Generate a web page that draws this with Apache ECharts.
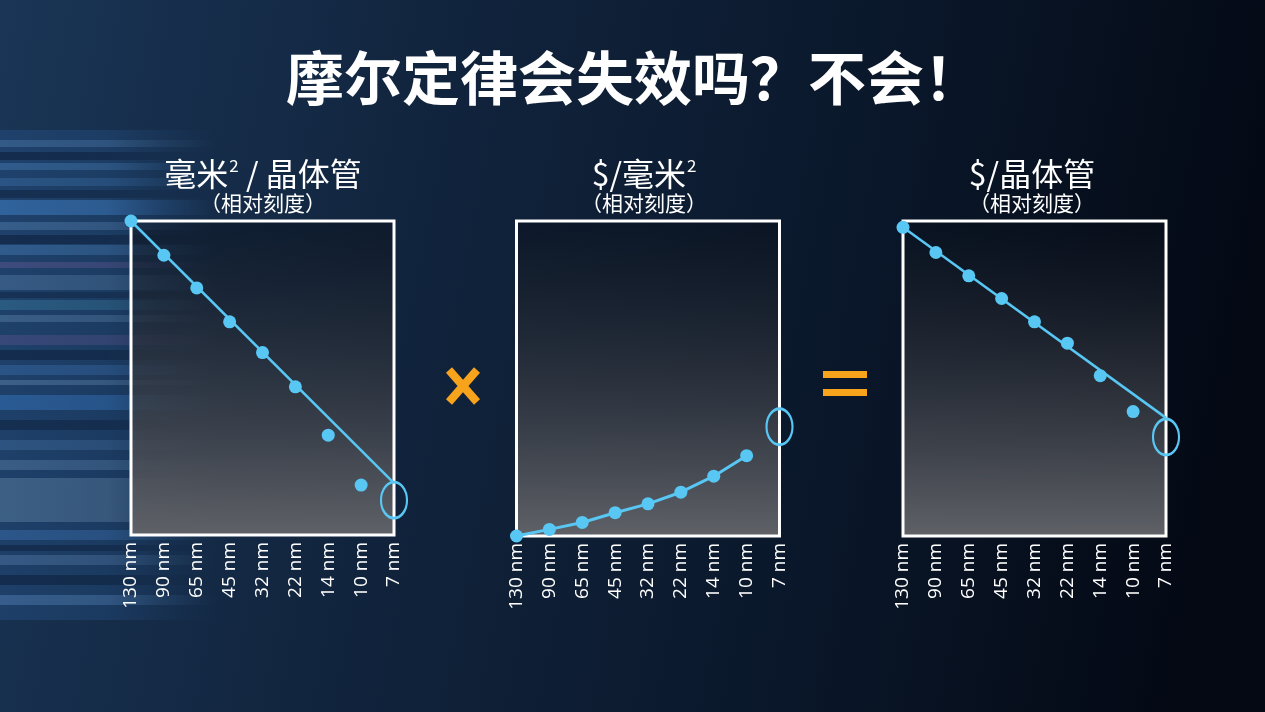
<!DOCTYPE html>
<html>
<head>
<meta charset="utf-8">
<script src="https://cdn.jsdelivr.net/npm/echarts@6/dist/echarts.min.js"></script>
<style>
html,body{margin:0;padding:0;width:1265px;height:712px;overflow:hidden;background:#0c1a2e;}
#chart{width:1265px;height:712px;}
</style>
</head>
<body>
<div id="chart"></div>
<script>
// ---- data ----
const nodes = ['130 nm','90 nm','65 nm','45 nm','32 nm','22 nm','14 nm','10 nm','7 nm'];
const areaPerTransistor = [100, 89.1, 78.7, 67.9, 58.1, 47.2, 31.8, 15.9, '-'];
const areaTrend = [100, '-', '-', '-', '-', '-', '-', '-', 16.5];
const areaMarker7nm = ['-', '-', '-', '-', '-', '-', '-', '-', 11.1];
const costPerArea = [0, 2.1, 4.3, 7.4, 10.2, 13.9, 19.0, 25.5, '-'];
const costPerAreaMarker7nm = ['-', '-', '-', '-', '-', '-', '-', '-', 34.7];
const costPerTransistor = [98.0, 90.0, 82.6, 75.4, 68.0, 61.2, 50.9, 39.5, '-'];
const costTrend = [98.0, '-', '-', '-', '-', '-', '-', '-', 37.5];
const costMarker7nm = ['-', '-', '-', '-', '-', '-', '-', '-', 31.4];

const mainTitle = '摩尔定律会失效吗？不会！';
const panelTitles = ['毫米² / 晶体管', '$/毫米²', '$/晶体管'];
const panelSub = '（相对刻度）';

// ---- styles ----
const BLUE = '#58c7f3';
const ORANGE = '#f7a41c';
const FONT = '"Noto Sans CJK SC","Noto Sans",sans-serif';
const grids = [
  {left: 131, top: 221, width: 263, height: 314},
  {left: 516.5, top: 221, width: 263, height: 315},
  {left: 903, top: 221, width: 263, height: 315}
];
const boxFill = {
  type: 'linear', x: 0, y: 0, x2: 0, y2: 1,
  colorStops: [
    {offset: 0, color: 'rgba(8,14,24,0.45)'},
    {offset: 1, color: 'rgba(96,98,104,1)'}
  ]
};

const chart = echarts.init(document.getElementById('chart'));

const gridOpts = grids.map(g => Object.assign({
  show: true, borderColor: '#ffffff', borderWidth: 3, backgroundColor: boxFill, containLabel: false
}, g));

const xAxes = grids.map((g, i) => ({
  type: 'category', gridIndex: i, data: nodes, boundaryGap: false,
  axisLine: {show: false}, axisTick: {show: false}, splitLine: {show: false},
  axisLabel: {rotate: 90, color: '#ffffff', fontSize: 19, margin: 7, fontFamily: '"Open Sans",sans-serif', interval: 0}
}));
const yAxes = grids.map((g, i) => ({
  type: 'value', gridIndex: i, min: 0, max: 100, show: false, splitLine: {show: false}
}));

function trend(data, i) {
  return {type: 'line', xAxisIndex: i, yAxisIndex: i, data, connectNulls: true, symbol: 'none',
    lineStyle: {color: BLUE, width: 2.5}, clip: false, z: 3, silent: true};
}
function dots(data, i, lineW) {
  return {type: 'line', xAxisIndex: i, yAxisIndex: i, data, symbol: 'circle', symbolSize: 13,
    showSymbol: true, showAllSymbol: true,
    itemStyle: {color: BLUE, borderWidth: 0}, lineStyle: {color: BLUE, width: lineW}, clip: false, z: 4, silent: true};
}
function ring(data, i) {
  return {type: 'line', xAxisIndex: i, yAxisIndex: i, data, symbol: 'circle', symbolSize: [26, 36],
    showSymbol: true, showAllSymbol: true,
    itemStyle: {color: 'rgba(0,0,0,0)', borderColor: BLUE, borderWidth: 2.5},
    lineStyle: {width: 0}, clip: false, z: 5, silent: true};
}

// decorative blurred streaks on the left edge: [y, height, rgb, alpha]
const streaks = [
  [130, 490, '40,90,150', 0.35],
  [140, 7, '100,150,200', 0.3], [152, 8, '5,15,35', 0.4], [163, 7, '80,140,200', 0.35],
  [178, 8, '70,130,190', 0.3], [190, 8, '5,15,35', 0.35], [200, 15, '70,140,215', 0.45],
  [222, 8, '110,160,210', 0.3], [235, 9, '5,15,35', 0.4], [245, 10, '80,140,200', 0.35],
  [262, 6, '120,95,160', 0.35], [275, 15, '110,150,190', 0.3], [292, 6, '5,15,35', 0.3],
  [300, 10, '70,150,180', 0.3], [315, 7, '120,160,200', 0.3], [335, 10, '115,90,155', 0.3],
  [350, 10, '5,15,35', 0.4], [365, 10, '70,130,200', 0.3], [380, 5, '130,170,210', 0.3],
  [395, 15, '60,130,210', 0.4], [420, 10, '5,15,35', 0.35], [440, 10, '80,130,180', 0.3],
  [460, 10, '120,160,200', 0.3], [478, 44, '120,155,185', 0.35], [530, 10, '70,130,200', 0.35],
  [545, 6, '5,15,35', 0.35], [555, 10, '110,150,195', 0.3], [575, 10, '5,15,35', 0.4],
  [595, 10, '100,150,205', 0.35]
];
const streakGraphics = streaks.map(s => ({
  type: 'rect', silent: true, z: -10,
  shape: {x: 0, y: s[0], width: 215, height: s[1]},
  style: {fill: {type: 'linear', x: 0, y: 0, x2: 1, y2: 0, colorStops: [
    {offset: 0, color: 'rgba(' + s[2] + ',' + s[3] + ')'},
    {offset: 0.5, color: 'rgba(' + s[2] + ',' + (s[3] * 0.85) + ')'},
    {offset: 0.75, color: 'rgba(' + s[2] + ',' + (s[3] * 0.35) + ')'},
    {offset: 1, color: 'rgba(' + s[2] + ',0)'}
  ]}}
}));

const titleCenters = [263, 644, 1032];
const textGraphics = [];
textGraphics.push({type: 'text', x: 286, y: 78, silent: true,
  style: {text: mainTitle, fill: '#ffffff', font: 'bold 58px ' + FONT, textAlign: 'left', textVerticalAlign: 'middle'}});
panelTitles.forEach((t, i) => {
  const parts = t.split('²');
  textGraphics.push({type: 'text', x: titleCenters[i], y: 174, silent: true,
    style: {
      text: parts.map((p, k) => (p ? '{m|' + p + '}' : '') + (k < parts.length - 1 ? '{s|2}' : '')).join(''),
      fill: '#ffffff', textAlign: 'center', textVerticalAlign: 'middle',
      rich: {
        m: {fontSize: 32, fontFamily: FONT, fill: '#ffffff', lineHeight: 40},
        s: {fontSize: 17, fontFamily: FONT, fill: '#ffffff', lineHeight: 40, verticalAlign: 'top', padding: [3, 0, 0, 1]}
      }
    }});
  textGraphics.push({type: 'text', x: titleCenters[i], y: 203, silent: true,
    style: {text: panelSub, fill: '#ffffff', font: '21px ' + FONT, textAlign: 'center', textVerticalAlign: 'middle'}});
});
// operators
const opGraphics = [
  {type: 'line', silent: true, shape: {x1: 449, y1: 370, x2: 477, y2: 402}, style: {stroke: ORANGE, lineWidth: 8}},
  {type: 'line', silent: true, shape: {x1: 477, y1: 370, x2: 449, y2: 402}, style: {stroke: ORANGE, lineWidth: 8}},
  {type: 'rect', silent: true, shape: {x: 823, y: 371, width: 44, height: 7}, style: {fill: ORANGE}},
  {type: 'rect', silent: true, shape: {x: 823, y: 389, width: 44, height: 7}, style: {fill: ORANGE}}
];

chart.setOption({
  backgroundColor: {
    type: 'linear', x: 0, y: 0, x2: 1, y2: 0.35,
    colorStops: [
      {offset: 0, color: '#1a3556'},
      {offset: 0.35, color: '#11243d'},
      {offset: 0.7, color: '#0a172a'},
      {offset: 1, color: '#040914'}
    ]
  },
  animation: false,
  grid: gridOpts,
  xAxis: xAxes,
  yAxis: yAxes,
  graphic: streakGraphics.concat(textGraphics, opGraphics),
  series: [
    trend(areaTrend, 0),
    dots(areaPerTransistor, 0, 0),
    ring(areaMarker7nm, 0),
    dots(costPerArea, 1, 3),
    ring(costPerAreaMarker7nm, 1),
    trend(costTrend, 2),
    dots(costPerTransistor, 2, 0),
    ring(costMarker7nm, 2)
  ]
});
</script>
</body>
</html>
